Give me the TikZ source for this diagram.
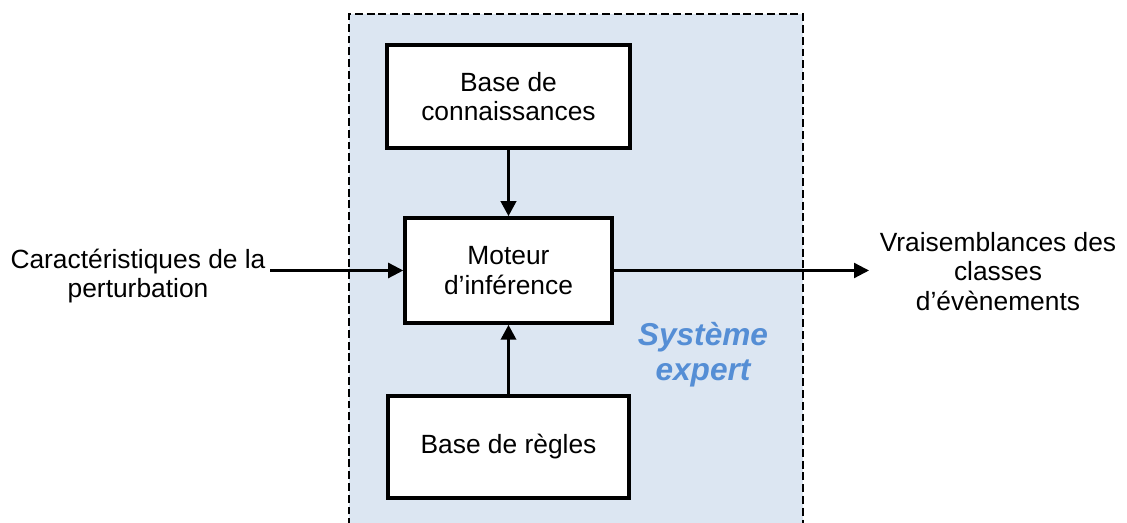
\documentclass[tikz,border=0pt]{standalone}
\usepackage{fontspec}
\setmainfont{Liberation Sans}
\usetikzlibrary{arrows.meta}
\definecolor{sysfill}{RGB}{220,230,242}
\definecolor{sysblue}{RGB}{85,142,213}

\begin{document}
\begin{tikzpicture}[scale=1,
  block/.style={draw,line width=2pt,fill=white,inner sep=0pt,align=center,font=\fontsize{15}{16.7}\selectfont},
  txt/.style={align=center,inner sep=0pt,font=\fontsize{15}{16.7}\selectfont},
  arrowthick/.style={line width=2pt,-{Triangle[length=0.3cm,width=0.3cm]}},
  arrowthin/.style={line width=1.3pt,-{Triangle[length=0.3cm,width=0.3cm]}}]

\def\blockx{10.17};
\def\sysleft{6.98};
\def\sysright{16.06};
\def\systop{10.18};

\useasboundingbox (0,0) rectangle (22.54,10.46);
\draw[dash pattern=on 4.5pt off 2.2pt,line width=0.85pt,fill=sysfill] (\sysleft,-0.3) rectangle (\sysright,\systop);

\node[block,minimum width=4.86cm,minimum height=2.06cm] (base) at (\blockx,8.53) {Base de\\connaissances};
\node[block,minimum width=4.14cm,minimum height=2.1cm] (moteur) at (\blockx,5.05) {Moteur\\d’inférence};
\node[block,minimum width=4.82cm,minimum height=2.04cm] (regles) at (\blockx,1.52) {Base de règles};

\node[txt] (entree) at (2.76,4.94) {Caractéristiques de la\\perturbation};
\node[txt] (sortie) at (19.96,5.03) {Vraisemblances des\\classes\\d’évènements};
\node[align=center,text=sysblue,font=\fontsize{18}{20}\selectfont\bfseries\itshape] (systeme) at (14.06,3.36) {Système\\expert};

\coordinate (in) at (5.4,5.05);
\coordinate (out) at (17.38,5.05);

\draw[arrowthin] (in) -- (moteur.west);
\draw[arrowthick] (base) -- (moteur);
\draw[arrowthick] (regles) -- (moteur);
\draw[arrowthin] (moteur) -- (out);
\end{tikzpicture}
\end{document}
